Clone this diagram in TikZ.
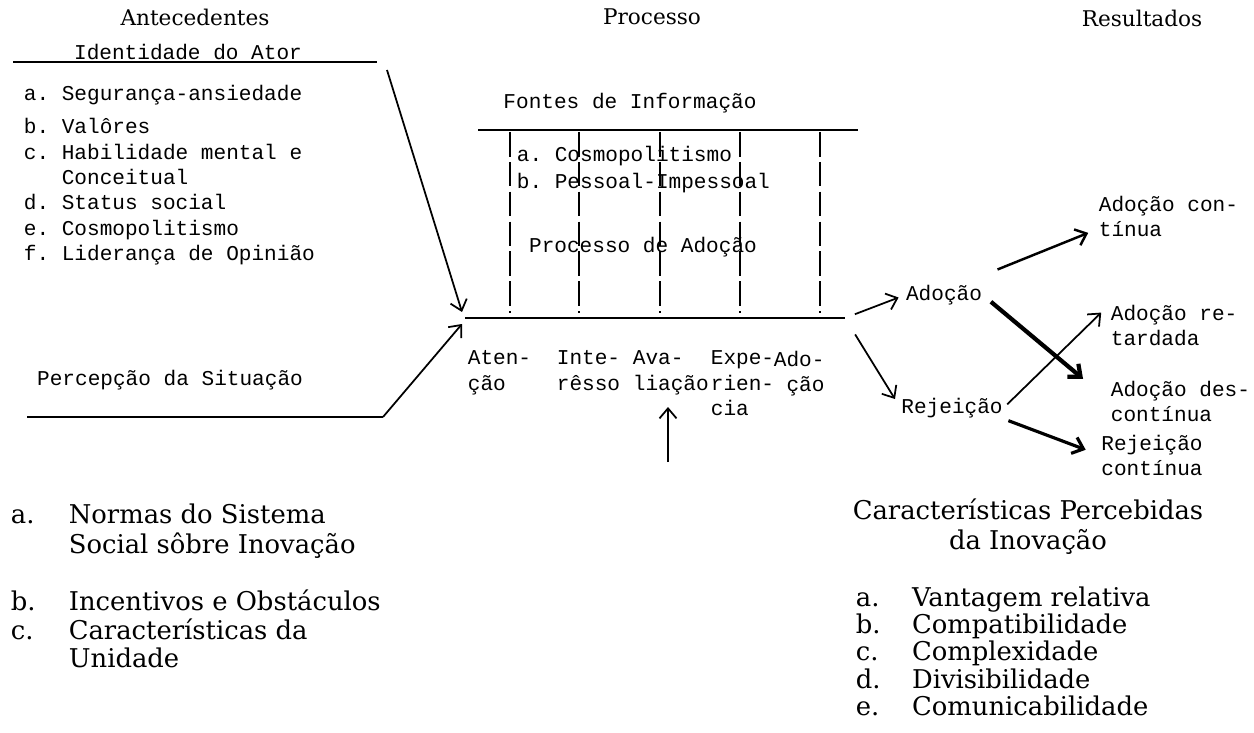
\documentclass[tikz,border=0pt]{standalone}
\usepackage{fontspec}
\setmainfont{DejaVu Serif}
\setmonofont{Liberation Mono}
\usetikzlibrary{arrows.meta}

\begin{document}
\begin{tikzpicture}[x=0.02cm, y=-0.02cm, >={Straight Barb[length=2mm,width=3.4mm]}, line width=1pt,
  maq/.style={font=\ttfamily\fontsize{12}{14.5}\selectfont, inner sep=0pt, align=left},
  imp/.style={font=\fontsize{14.7}{16.2}\selectfont, inner sep=0pt},
  tit/.style={font=\fontsize{12.3}{14}\selectfont, inner sep=0pt}]
\useasboundingbox (0,0) rectangle (1254,733);

% cabecalhos
\node[tit] (antec) at (195,17) {Antecedentes};
\node[tit] (proc) at (652,17) {Processo};
\node[tit] (result) at (1142,18) {Resultados};

% antecedentes
\node[maq] (ident) at (188,52) {Identidade do Ator};
\coordinate (id1) at (13,62);
\coordinate (id2) at (377,62);
\coordinate (id3) at (387,70);
\node[maq, anchor=north west] (idlist) at (23,84) {a. Segurança-ansiedade\\[4.5pt]b. Valôres\\c. Habilidade mental e\\\phantom{c.~}Conceitual\\d. Status social\\e. Cosmopolitismo\\f. Liderança de Opinião};
\node[maq] (percep) at (170,380) {Percepção da Situação};
\coordinate (pe1) at (27,417);
\coordinate (pe2) at (383,417);
\draw (id1) -- (id2);
\draw (pe1) -- (pe2);

% processo
\node[maq] (fontes) at (630,103) {Fontes de Informação};
\coordinate (f1) at (478,130);
\coordinate (f2) at (858,130);
\draw (f1) -- (f2);
\draw[line width=0.8pt, dash pattern=on 14pt off 3pt] (510,132) -- (510,313);
\draw[line width=0.8pt, dash pattern=on 14pt off 3pt] (579,132) -- (579,313);
\draw[line width=0.8pt, dash pattern=on 14pt off 3pt] (660,132) -- (660,313);
\draw[line width=0.8pt, dash pattern=on 14pt off 3pt] (740,132) -- (740,313);
\draw[line width=0.8pt, dash pattern=on 14pt off 3pt] (820,132) -- (820,313);
\node[maq, anchor=north west] (fontlist) at (516,145) {a. Cosmopolitismo\\[0.8pt]b. Pessoal-Impessoal};
\node[maq] (procad) at (643,247) {Processo de Adoção};

\coordinate (m1) at (465,318);
\coordinate (m2) at (845,318);
\coordinate (m1a) at (462,312);
\coordinate (m1b) at (462,324);
\draw (m1) -- (m2);
\draw[->] (id3) -- (m1a);
\draw[->] (pe2) -- (m1b);

\node[maq, anchor=north west] (aten) at (467,350) {Aten-\\ção};
\node[maq, anchor=north west] (inte) at (556,350) {Inte-\\rêsso};
\node[maq, anchor=north west] (aval) at (632,350) {Ava-\\liação};
\node[maq, anchor=north west] (expe) at (710,350) {Expe-\\rien-\\cia};
\node[maq, anchor=north west, align=right] (ado) at (773,350) {Ado-\\ção};
\coordinate (up1) at (668,462);
\coordinate (up2) at (668,407);
\draw[->] (up1) -- (up2);

% resultados
\node[maq] (adoc) at (944,295) {Adoção};
\node[maq] (rej) at (952,408) {Rejeição};
\node[maq, anchor=north west] (cont) at (1098,195) {Adoção con-\\tínua};
\node[maq, anchor=north west] (ret) at (1110,304) {Adoção re-\\tardada};
\node[maq, anchor=north west] (desc) at (1110,380) {Adoção des-\\contínua};
\node[maq, align=center, anchor=north] (rejc) at (1152,434) {Rejeição\\contínua};
\draw[->, shorten <=6pt, shorten >=4pt] (m2) -- (adoc.west);
\draw[->, shorten <=11pt, shorten >=6pt] (m2) -- (rej.west);
\draw[->, line width=1.4pt, shorten <=9pt, shorten >=6pt] ([yshift=5pt]adoc.north east) -- ([yshift=5pt]cont.south west);
\draw[->, line width=2.4pt, shorten <=6pt, shorten >=20pt] (adoc.east) -- (desc.west);
\draw[->, shorten <=3pt, shorten >=7pt] (rej.east) -- (ret.north west);
\draw[->, line width=1.8pt, shorten <=3pt, shorten >=9pt] (rej.south east) -- (rejc.west);

% normas e caracteristicas
\node[imp, anchor=north west] (normas) at (10,503) {\begin{tabular}{@{}p{33pt}@{}l@{}}
a. & Normas do Sistema\\
   & Social sôbre Inovação\\[16pt]
b. & Incentivos e Obstáculos\\
c. & Características da\\
   & Unidade
\end{tabular}};
\node[imp, align=center] (carac) at (1028,527) {Características Percebidas\\[1pt]da Inovação};
\node[imp, anchor=north west] (caraclist) at (855,586) {\renewcommand\arraystretch{0.89}\begin{tabular}{@{}p{32pt}@{}l@{}}
a. & Vantagem relativa\\
b. & Compatibilidade\\
c. & Complexidade\\
d. & Divisibilidade\\
e. & Comunicabilidade
\end{tabular}};
\end{tikzpicture}
\end{document}
